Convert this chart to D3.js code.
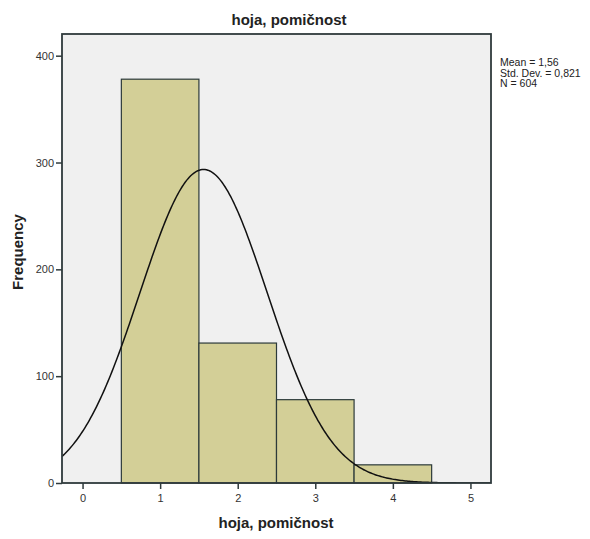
<!DOCTYPE html>
<html><head><meta charset="utf-8">
<script src="https://cdn.jsdelivr.net/npm/d3@7"></script>
<style>body{margin:0;background:#fff;font-family:Arial,"Liberation Sans",sans-serif;}</style>
</head><body>
<svg id="c" width="590" height="539"></svg>
<script>
const binCenters = [1, 2, 3, 4];
const frequencies = [378, 131, 78, 17];
const xTicks = [0, 1, 2, 3, 4, 5];
const yTicks = [0, 100, 200, 300, 400];
const stats = ["Mean = 1,56", "Std. Dev. = 0,821", "N = 604"];
const mean = 1.56, sd = 0.821, n = 604, binWidth = 1;

const svg = d3.select("#c");
const L = 62, R = 491, T = 34, B = 483;
const x = d3.scaleLinear().domain([-0.265, 5.265]).range([L, R]);
const y = d3.scaleLinear().domain([0, 420.3]).range([B, T]);

svg.append("rect").attr("x", L).attr("y", T).attr("width", R - L).attr("height", B - T)
  .attr("fill", "#f0f0f0");

svg.append("clipPath").attr("id", "clip").append("rect")
  .attr("x", L).attr("y", T).attr("width", R - L).attr("height", B - T);

svg.append("g").selectAll("rect").data(binCenters).join("rect")
  .attr("x", d => x(d - binWidth / 2))
  .attr("y", (d, i) => y(frequencies[i]))
  .attr("width", d => x(d + binWidth / 2) - x(d - binWidth / 2))
  .attr("height", (d, i) => y(0) - y(frequencies[i]))
  .attr("fill", "#d3cf97").attr("stroke", "#2c3a3a").attr("stroke-width", 1.2);

const pts = d3.range(0, 301).map(i => {
  const xv = -0.265 + i * (5.53 / 300);
  const yv = n * binWidth / (sd * Math.sqrt(2 * Math.PI)) * Math.exp(-0.5 * ((xv - mean) / sd) ** 2);
  return [xv, yv];
});
svg.append("path").datum(pts).attr("clip-path", "url(#clip)")
  .attr("d", d3.line().x(d => x(d[0])).y(d => y(d[1])))
  .attr("fill", "none").attr("stroke", "#111").attr("stroke-width", 1.5);

svg.append("rect").attr("x", L).attr("y", T).attr("width", R - L).attr("height", B - T)
  .attr("fill", "none").attr("stroke", "#2f3a3c").attr("stroke-width", 1.8);

const xa = svg.append("g").attr("transform", `translate(0,${B})`)
  .call(d3.axisBottom(x).tickValues(xTicks).tickSize(6).tickPadding(5).tickFormat(d3.format("d")));
const ya = svg.append("g").attr("transform", `translate(${L},0)`)
  .call(d3.axisLeft(y).tickValues(yTicks).tickSize(6).tickPadding(2).tickFormat(d3.format("d")));
[xa, ya].forEach(a => {
  a.select(".domain").remove();
  a.selectAll(".tick line").attr("stroke", "#2f3a3c").attr("stroke-width", 1.5);
  a.selectAll(".tick text").attr("fill", "#333").style("font-size", "11px")
    .style("font-family", "Arial, 'Liberation Sans', sans-serif");
});

svg.append("text").attr("x", 289).attr("y", 25).attr("text-anchor", "middle")
  .style("font-size", "15px").style("font-weight", "bold").attr("fill", "#222")
  .text("hoja, pomičnost");
svg.append("text").attr("x", 276).attr("y", 528).attr("text-anchor", "middle")
  .style("font-size", "15px").style("font-weight", "bold").attr("fill", "#222")
  .text("hoja, pomičnost");
svg.append("text").attr("transform", "translate(23,252) rotate(-90)").attr("text-anchor", "middle")
  .style("font-size", "15px").style("font-weight", "bold").attr("fill", "#222")
  .text("Frequency");

svg.append("g").selectAll("text").data(stats).join("text")
  .attr("x", 500).attr("y", (d, i) => 66 + i * 10.5)
  .style("font-size", "10.5px").attr("fill", "#222").text(d => d);
</script>
</body></html>
